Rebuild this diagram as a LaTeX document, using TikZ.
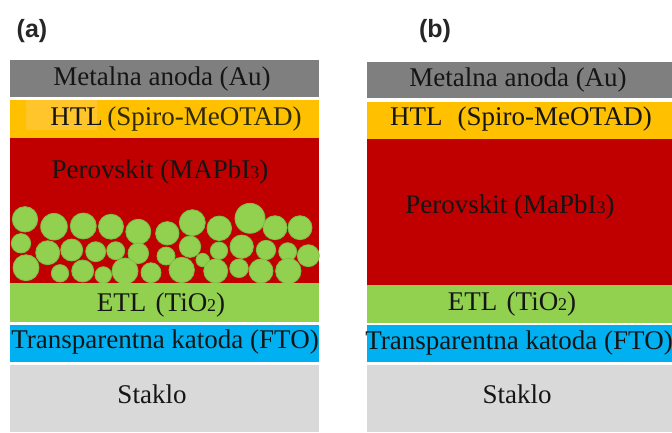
\documentclass[tikz,border=0pt]{standalone}
\usepackage{fontspec}
\setmainfont{Liberation Serif}
\newfontfamily\labfont{Liberation Sans}
\definecolor{anodegray}{HTML}{7F7F7F}
\definecolor{htlorange}{HTML}{FFC000}
\definecolor{htllight}{HTML}{FFC52B}
\definecolor{perored}{HTML}{C00000}
\definecolor{etlgreen}{HTML}{92D050}
\definecolor{balledge}{HTML}{7CC143}
\definecolor{ftoblue}{HTML}{00B0F0}
\definecolor{glassgray}{HTML}{D9D9D9}
\definecolor{txt}{HTML}{151515}
\definecolor{olivetxt}{HTML}{2E2A05}
\newcommand{\smallsub}[1]{{\fontsize{18}{18}\selectfont #1}}
\tikzset{
  lay/.style={inner sep=0pt, text=txt, font=\fontsize{27}{30}\selectfont},
  panel/.style={inner sep=0pt, text=black!85, font=\labfont\bfseries\fontsize{25}{28}\selectfont},
  ball/.style={fill=etlgreen, draw=balledge, line width=0.8pt}
}
\begin{document}
\begin{tikzpicture}[x=1pt,y=-1pt]
\useasboundingbox (0,0) rectangle (672,432);
\fill[white] (0,0) rectangle (672,432);
% ---------- panel (a) ----------
\fill[anodegray] (10,60) rectangle (319,96.7);
\fill[htlorange] (10,100) rectangle (319,138.3);
\fill[htllight] (26,100) rectangle (97,130);
\fill[perored] (10,138.3) rectangle (319,283.3);
\foreach \x/\y/\r in {25/219.3/12.7, 54/226.7/13.3, 83.3/226/13, 111/226.7/12.5, 138.3/231.7/12.5,
  167.3/233.3/11.7, 192.3/222.7/13, 219.3/228.3/12.3, 250/218.3/15, 275/227.7/12, 300/227.7/12,
  21/243.3/9.7, 47.7/252.7/12, 71.7/250/11, 95.7/251.7/10, 115.7/250.7/9, 138.3/253.3/10.3,
  166/256/9, 190/246.7/10.7, 219/250.7/8.7, 241.7/246.7/11.7, 266/250/9.7, 287.7/251.7/9, 308.3/255.7/11,
  26/267.7/13, 60/273.3/8.7, 82.7/271/11, 103.3/275/8.3, 125/271/13, 151/272.7/10,
  181.7/270/12.7, 202.7/260/6.7, 215.7/271/12, 239/268.3/9.3, 261/271/12, 288.3/271/12.7}
  {\path[ball] (\x,\y) circle[radius=\r];}
\fill[etlgreen] (10,283.3) rectangle (319,321.7);
\fill[ftoblue] (10,325) rectangle (319,361.7);
\fill[glassgray] (10,365) rectangle (319,432);

\node[panel] (la) at (32,31) {(a)};
\node[lay] (a1) at (162,79) {Metalna anoda (Au)};
\node[lay] (a2) at (176,119) {HTL\,\textcolor{olivetxt}{(Spiro-MeOTAD)}};
\node[lay] (a3) at (160,172.5) {Perovskit (MAPbI\smallsub{3})};
\node[lay] (a4) at (161,305) {ETL\hspace{0.35em}(TiO\smallsub{2})};
\node[lay] (a5) at (165,341.7) {Transparentna katoda (FTO)};
\node[lay] (a6) at (152,394) {Staklo};

% ---------- panel (b) ----------
\fill[anodegray] (366.7,61.7) rectangle (672,98.3);
\fill[htlorange] (366.7,101.7) rectangle (672,139.3);
\fill[perored] (366.7,139.3) rectangle (672,285);
\fill[etlgreen] (366.7,285) rectangle (672,323.3);
\fill[ftoblue] (366.7,325) rectangle (672,361.7);
\fill[glassgray] (366.7,365) rectangle (672,432);

\node[panel] (lb) at (435,31) {(b)};
\node[lay] (b1) at (518,79.7) {Metalna anoda (Au)};
\node[lay] (b2) at (521,118.8) {HTL\hspace{0.3em} (Spiro-MeOTAD)};
\node[lay] (b3) at (510,206.7) {Perovskit (MaPbI\smallsub{3})};
\node[lay] (b4) at (512,304) {ETL\hspace{0.35em}(TiO\smallsub{2})};
\node[lay] (b5) at (519,343.3) {Transparentna katoda (FTO)};
\node[lay] (b6) at (517,394) {Staklo};
\end{tikzpicture}
\end{document}
